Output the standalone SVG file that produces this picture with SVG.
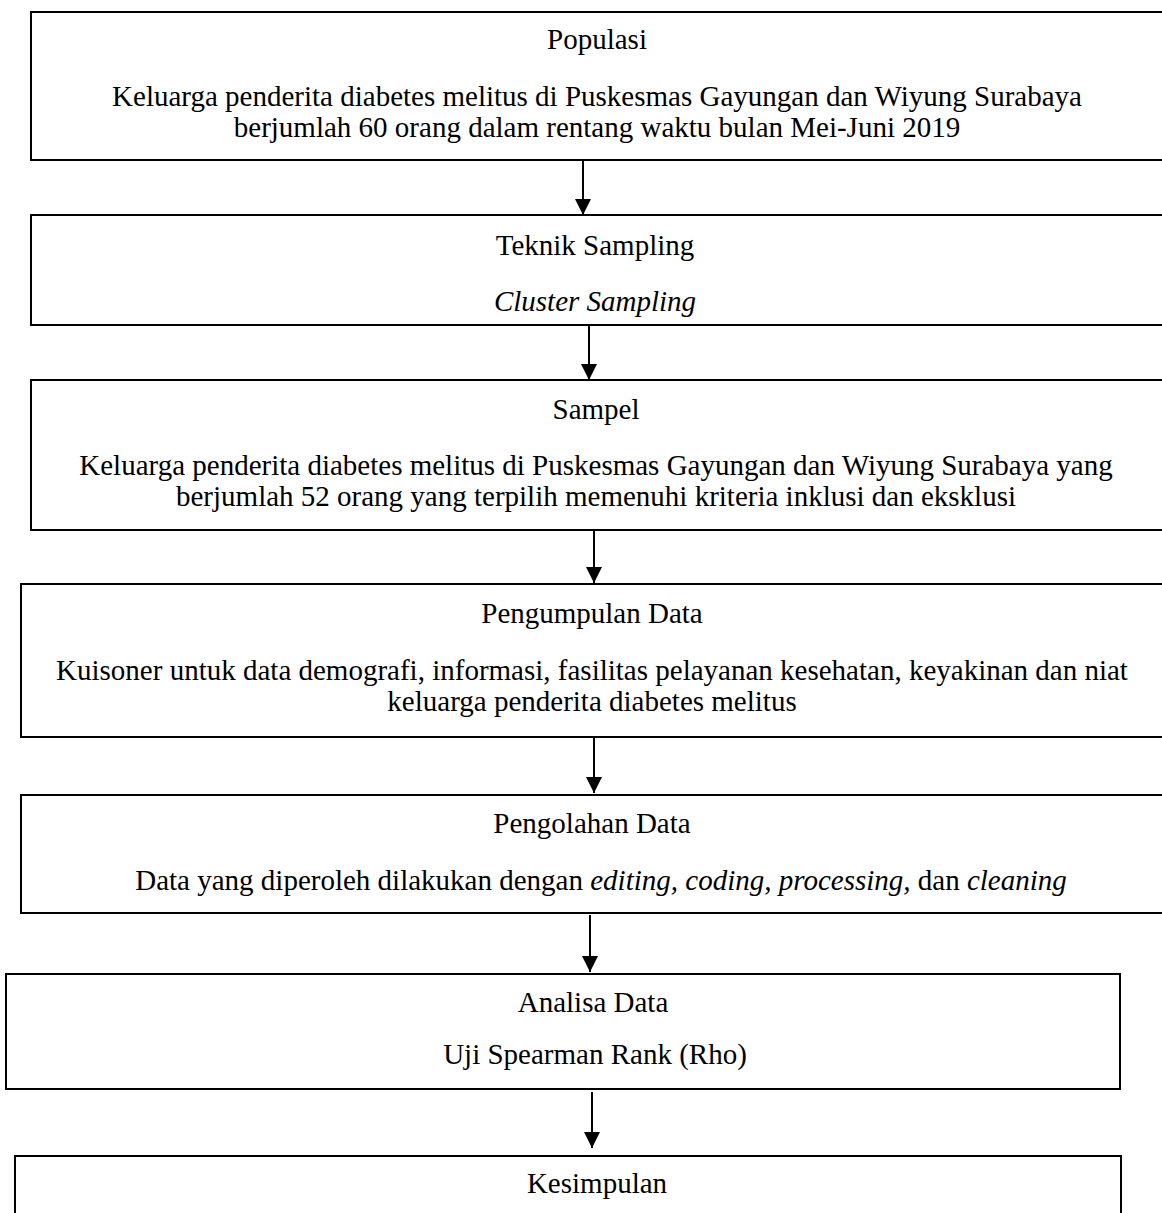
<svg xmlns="http://www.w3.org/2000/svg" width="1162" height="1213" viewBox="0 0 1162 1213">
<defs>
<style>
.box{fill:#fff;stroke:#000;stroke-width:2}
.t{font-family:"Liberation Serif","Times New Roman",serif;font-size:29px;fill:#000;text-anchor:middle}
.i{font-style:italic}
.c{stroke:#000;stroke-width:2;fill:none}
</style>
<marker id="ah" markerUnits="userSpaceOnUse" markerWidth="16" markerHeight="16" viewBox="0 0 16 16" refX="16" refY="8" orient="auto">
<path d="M0,0 L16,8 L0,16 Z" fill="#000"/>
</marker>
</defs>
<rect width="1162" height="1213" fill="#fff"/>
<g id="populasi">
<rect class="box" x="31" y="12" width="1150" height="148"/>
<text class="t" x="597" y="49">Populasi</text>
<text class="t" x="597" y="106">Keluarga penderita diabetes melitus di Puskesmas Gayungan dan Wiyung Surabaya</text>
<text class="t" x="597" y="137">berjumlah 60 orang dalam rentang waktu bulan Mei-Juni 2019</text>
</g>
<g id="teknik">
<rect class="box" x="31" y="215" width="1150" height="110"/>
<text class="t" x="595" y="255">Teknik Sampling</text>
<text class="t i" x="595" y="311">Cluster Sampling</text>
</g>
<g id="sampel">
<rect class="box" x="31" y="380" width="1150" height="150"/>
<text class="t" x="596" y="419">Sampel</text>
<text class="t" x="596" y="475">Keluarga penderita diabetes melitus di Puskesmas Gayungan dan Wiyung Surabaya yang</text>
<text class="t" x="596" y="506">berjumlah 52 orang yang terpilih memenuhi kriteria inklusi dan eksklusi</text>
</g>
<g id="pengumpulan">
<rect class="box" x="21" y="584" width="1160" height="153"/>
<text class="t" x="592" y="623">Pengumpulan Data</text>
<text class="t" x="592" y="680">Kuisoner untuk data demografi, informasi, fasilitas pelayanan kesehatan, keyakinan dan niat</text>
<text class="t" x="592" y="711">keluarga penderita diabetes melitus</text>
</g>
<g id="pengolahan">
<rect class="box" x="21" y="795" width="1160" height="118"/>
<text class="t" x="592" y="833">Pengolahan Data</text>
<text class="t" x="601" y="890">Data yang diperoleh dilakukan dengan <tspan class="i">editing, coding, processing,</tspan> dan <tspan class="i">cleaning</tspan></text>
</g>
<g id="analisa">
<rect class="box" x="6" y="974" width="1114" height="115"/>
<text class="t" x="593" y="1012">Analisa Data</text>
<text class="t" x="595" y="1064">Uji Spearman Rank (Rho)</text>
</g>
<g id="kesimpulan">
<rect class="box" x="15" y="1156" width="1106" height="80"/>
<text class="t" x="597" y="1193">Kesimpulan</text>
</g>
<g id="connectors">
<line class="c" x1="583" y1="160" x2="583" y2="215" marker-end="url(#ah)"/>
<line class="c" x1="589" y1="325" x2="589" y2="380" marker-end="url(#ah)"/>
<line class="c" x1="594" y1="530" x2="594" y2="583" marker-end="url(#ah)"/>
<line class="c" x1="594" y1="737" x2="594" y2="793" marker-end="url(#ah)"/>
<line class="c" x1="590" y1="915" x2="590" y2="972" marker-end="url(#ah)"/>
<line class="c" x1="592" y1="1092" x2="592" y2="1148" marker-end="url(#ah)"/>
</g>
</svg>
